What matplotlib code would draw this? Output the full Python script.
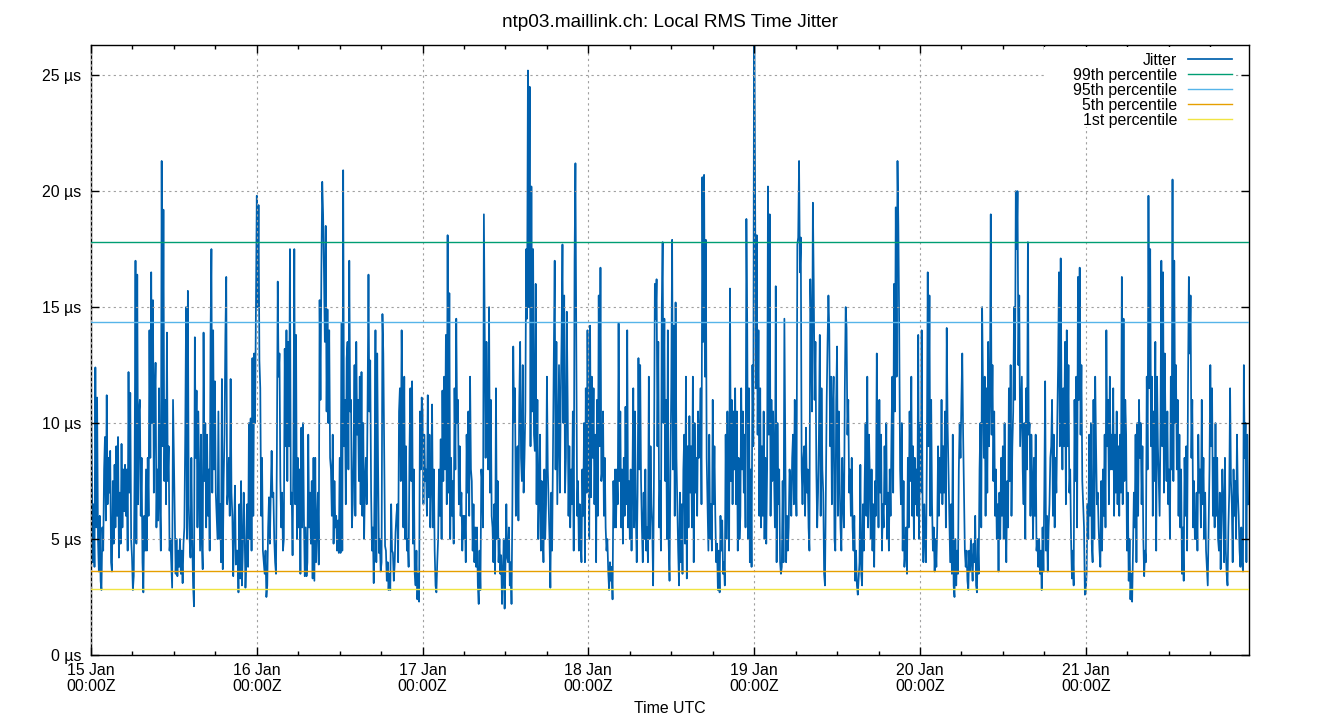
import numpy as np
import matplotlib
matplotlib.use("Agg")
import matplotlib.pyplot as plt
import matplotlib.dates as mdates
from matplotlib.patches import Rectangle
from matplotlib.ticker import FuncFormatter, MultipleLocator

# ---------------- data (µs), one list per day ----------------
day_starts = ["2025-01-15", "2025-01-16", "2025-01-17", "2025-01-18",
              "2025-01-19", "2025-01-20", "2025-01-21"]
last_sample = "2025-01-21T23:38"

jitter_jan15 = [
    11.2, 7.5, 4.0, 6.5, 3.8, 12.4, 5.5, 11.1,
    5.0, 3.6, 6.0, 3.2, 2.8, 5.5, 4.5, 8.0,
    9.4, 5.8, 11.2, 6.5, 8.5, 7.0, 8.8, 4.0,
    3.6, 7.5, 4.8, 8.2, 5.5, 9.0, 6.0, 9.4,
    4.2, 7.0, 4.8, 9.1, 5.5, 8.0, 6.2, 8.2,
    6.0, 8.0, 4.5, 12.2, 7.0, 11.3, 5.0, 4.2,
    2.8, 3.4, 8.0, 17.0, 4.8, 16.4, 6.5, 10.5,
    11.0, 6.0, 8.5, 4.0, 2.7, 6.0, 4.5, 8.0,
    4.5, 8.5, 6.0, 14.0, 8.5, 16.5, 10.0, 15.3,
    7.0, 11.0, 12.6, 5.5, 8.0, 5.8, 11.5, 6.5,
    4.5, 21.3, 9.0, 19.2, 7.5, 11.0, 6.5, 13.9,
    7.5, 9.0, 4.5, 5.0, 4.0, 2.9, 11.0, 8.5,
    6.0, 3.5, 5.0, 3.4, 4.5, 3.8, 5.0, 3.5,
    4.5, 3.1, 4.8, 5.5, 9.5, 15.0, 5.0, 15.7,
    6.5, 5.0, 4.2, 8.5, 5.0, 3.0, 2.1, 13.7,
    8.5, 11.4, 5.5, 10.5, 7.5, 4.5, 9.5, 5.0,
    3.7, 13.9, 7.5, 10.0, 5.5, 9.5, 6.0, 8.0,
    4.5, 13.8, 17.5, 7.0, 14.0, 8.0, 11.8, 7.0,
    6.0, 5.0, 10.5, 5.0, 6.5, 4.0, 11.9, 3.7,
    7.5, 9.5, 13.8, 16.3, 6.5, 7.0, 8.5, 6.0,
    11.9, 7.0, 6.0, 3.4, 5.5, 7.3, 3.9, 4.5,
    4.5, 2.7, 6.5, 3.3, 7.5, 3.0, 4.5, 7.0,
    5.5, 2.9, 4.0, 6.5, 3.8, 10.0, 5.0, 10.2,
    4.5, 12.8, 6.0, 13.0, 10.0, 15.0,
]
jitter_jan16 = [
    19.8, 15.0, 19.4, 12.7, 11.5, 6.0, 8.5, 4.5,
    4.0, 3.5, 4.5, 2.5, 3.0, 5.5, 6.8, 4.8,
    7.0, 8.8, 6.8, 7.0, 5.0, 4.0, 3.5, 8.5,
    16.1, 12.0, 13.0, 7.5, 5.5, 7.0, 4.5, 5.0,
    13.2, 9.0, 14.0, 7.5, 13.5, 9.0, 17.5, 6.5,
    7.0, 4.3, 9.0, 17.5, 6.5, 13.8, 5.0, 8.5,
    5.5, 8.0, 3.5, 9.8, 5.5, 10.0, 6.0, 3.4,
    5.5, 3.4, 4.0, 9.5, 5.5, 7.0, 4.8, 7.5,
    3.3, 8.5, 3.2, 8.5, 4.0, 5.5, 7.0, 3.9,
    15.3, 11.0, 16.5, 20.4, 19.0, 16.5, 13.5, 18.5,
    10.5, 14.9, 10.0, 14.0, 8.5, 8.0, 6.0, 9.5,
    4.8, 7.5, 5.5, 6.0, 4.5, 5.8, 4.4, 8.5,
    4.4, 14.3, 4.5, 20.9, 9.0, 11.0, 6.5, 12.8,
    13.5, 8.0, 17.0, 10.5, 11.0, 5.5, 6.5, 9.0,
    12.5, 6.0, 13.5, 9.5, 11.0, 7.5, 12.0, 6.5,
    12.2, 6.0, 10.0, 5.0, 7.5, 8.5, 6.5, 11.0,
    16.4, 10.5, 12.7, 7.0, 4.5, 5.5, 3.1, 7.5,
    14.0, 4.0, 13.0, 8.2, 4.4, 5.0, 3.6, 4.0,
    14.7, 13.0, 9.0, 4.7, 4.5, 3.2, 4.0, 2.8,
    3.5, 2.8, 6.5, 4.5, 4.4, 3.2, 3.9, 5.3,
    6.0, 6.5, 4.0, 10.5, 11.5, 7.5, 14.0, 10.5,
    5.5, 12.0, 5.0, 9.0, 4.5, 5.0, 3.8, 8.8,
    11.5, 7.5, 11.8, 4.8, 8.0, 3.5, 3.0, 4.5,
    2.4, 3.5, 2.3, 10.5, 8.0, 11.1,
]
jitter_jan17 = [
    10.5, 6.5, 9.5, 7.5, 8.0, 6.0, 11.2, 6.8,
    9.5, 5.5, 7.5, 10.8, 5.5, 8.0, 4.5, 3.0,
    2.7, 4.0, 5.0, 8.0, 6.0, 9.3, 5.0, 11.4,
    7.5, 12.0, 8.0, 13.8, 6.5, 18.1, 7.0, 15.6,
    5.0, 8.5, 6.0, 7.5, 4.8, 11.5, 8.0, 14.5,
    10.0, 11.0, 6.5, 9.0, 6.0, 7.0, 4.5, 6.0,
    5.0, 6.0, 4.0, 9.5, 7.0, 10.5, 6.0, 12.0,
    8.0, 7.5, 4.5, 6.5, 4.0, 5.5, 3.8, 5.5,
    3.0, 2.2, 4.5, 2.8, 8.0, 7.5, 5.5, 19.0,
    14.0, 8.5, 13.5, 10.0, 8.0, 15.0, 7.0, 11.0,
    6.0, 5.5, 4.0, 6.5, 3.5, 11.5, 5.0, 7.5,
    4.0, 5.0, 3.5, 4.3, 2.2, 3.5, 5.0, 2.0,
    4.0, 6.5, 4.2, 4.0, 5.5, 3.0, 4.0, 2.2,
    6.5, 13.3, 10.0, 11.5, 6.0, 8.5, 9.0, 5.8,
    11.0, 13.5, 8.5, 7.5, 12.5, 7.0, 8.5, 10.5,
    17.5, 14.5, 25.2, 15.0, 24.5, 9.0, 20.2, 10.5,
    17.5, 9.5, 8.8, 16.0, 6.5, 11.0, 5.0, 7.0,
    9.5, 4.5, 7.5, 5.5, 4.0, 8.0, 5.0, 6.5,
    12.0, 8.0, 6.5, 5.0, 2.9, 7.0, 4.5, 9.0,
    13.0, 17.0, 8.0, 13.5, 6.5, 9.5, 12.5, 7.0,
    11.0, 13.8, 17.7, 10.0, 15.5, 7.0, 8.5, 14.8,
    11.0, 6.0, 9.0, 5.5, 8.0, 6.5, 10.5, 4.5,
    17.0, 21.2, 14.0, 6.0, 7.5, 4.5, 6.5, 5.0,
    4.0, 8.0, 6.0, 10.0, 4.0, 11.5, 7.0, 14.0,
]
jitter_jan18 = [
    9.0, 5.0, 14.2, 6.8, 12.0, 8.5, 11.5, 6.5,
    9.5, 4.0, 11.0, 6.0, 15.5, 9.0, 16.7, 7.5,
    8.0, 10.5, 6.0, 8.5, 5.5, 4.5, 5.0, 3.6,
    2.8, 4.0, 3.2, 3.8, 2.4, 7.5, 5.5, 8.0,
    5.5, 8.0, 6.5, 14.3, 7.5, 10.5, 5.5, 8.0,
    4.8, 8.5, 6.0, 10.7, 6.5, 14.0, 5.5, 7.5,
    5.0, 8.0, 4.5, 7.5, 11.5, 5.5, 10.5, 6.0,
    4.0, 7.0, 12.8, 8.0, 12.5, 7.5, 5.5, 4.0,
    7.0, 5.0, 8.0, 4.5, 5.5, 4.0, 12.0, 5.0,
    9.0, 6.5, 5.5, 3.0, 8.0, 16.0, 14.5, 16.2,
    9.0, 13.5, 5.5, 7.5, 4.5, 15.0, 17.8, 10.0,
    14.5, 7.5, 11.0, 5.0, 14.0, 4.8, 3.2, 8.0,
    11.5, 17.9, 8.0, 14.2, 6.0, 15.2, 8.5, 6.5,
    4.5, 3.0, 7.0, 4.0, 6.5, 3.5, 8.0, 9.5,
    4.8, 12.0, 3.3, 9.0, 5.5, 10.3, 7.0, 9.0,
    5.5, 12.0, 4.0, 10.0, 7.0, 8.5, 6.0, 10.5,
    8.5, 9.5, 11.5, 6.5, 20.6, 13.5, 20.7, 12.0,
    17.9, 8.5, 6.5, 4.5, 9.5, 5.0, 6.5, 4.5,
    11.0, 6.5, 9.0, 6.0, 4.0, 4.8, 2.8, 4.5,
    2.7, 6.0, 4.5, 5.8, 3.5, 4.0, 3.0, 9.5,
    5.0, 10.5, 7.0, 4.5, 15.8, 7.5, 11.0, 6.5,
    10.5, 8.0, 11.5, 6.5, 10.5, 4.5, 8.5, 5.0,
    6.0, 11.5, 8.0, 10.5, 7.0, 9.5, 5.5, 18.8,
    14.0, 5.0, 11.5, 4.0, 8.0, 3.8, 12.5, 9.0,
]
jitter_jan19 = [
    30.0, 21.0, 11.5, 18.1, 9.5, 14.0, 6.0, 11.5,
    5.5, 9.0, 6.0, 10.5, 5.0, 8.5, 4.8, 8.0,
    20.2, 9.5, 19.0, 6.0, 11.0, 7.5, 10.5, 8.0,
    5.5, 15.9, 4.0, 10.0, 6.5, 8.0, 4.0, 3.5,
    3.8, 7.5, 4.0, 14.5, 9.0, 4.0, 6.0, 4.5,
    5.5, 8.0, 7.5, 6.0, 8.5, 9.5, 6.5, 11.0,
    8.0, 6.0, 17.7, 18.0, 21.3, 16.5, 18.0, 8.0,
    6.5, 8.5, 9.0, 6.0, 9.8, 7.0, 8.0, 5.5,
    4.5, 16.2, 14.0, 10.5, 19.5, 16.0, 11.0, 13.5,
    8.0, 5.5, 7.0, 9.5, 13.8, 6.0, 11.5, 8.0,
    7.0, 3.5, 3.0, 7.0, 11.0, 13.5, 15.5, 14.0,
    9.0, 12.0, 6.5, 10.5, 12.0, 5.0, 4.5, 11.0,
    13.3, 6.0, 10.5, 7.5, 5.5, 4.5, 8.5, 6.5,
    5.5, 11.5, 15.0, 14.1, 9.5, 11.0, 7.0, 8.0,
    6.0, 8.5, 5.5, 4.5, 6.0, 3.2, 4.5, 3.0,
    2.6, 3.3, 4.0, 8.2, 3.5, 3.0, 6.5, 4.5,
    7.5, 10.0, 6.0, 12.0, 5.5, 9.5, 7.5, 5.0,
    8.0, 4.5, 6.5, 3.8, 7.5, 6.0, 13.0, 8.5,
    5.5, 11.0, 7.0, 9.5, 4.5, 6.5, 5.5, 9.0,
    6.5, 10.0, 5.0, 7.0, 4.5, 8.0, 6.0, 9.5,
    12.0, 7.0, 16.0, 10.5, 19.3, 12.0, 21.3, 18.5,
    14.0, 8.0, 6.5, 10.0, 4.5, 7.5, 3.8, 4.5,
    5.5, 3.5, 8.5, 5.5, 10.5, 7.5, 12.0, 6.0,
    9.0, 5.0, 8.5, 6.5, 8.0, 6.0, 13.8, 5.0,
]
jitter_jan20 = [
    10.0, 7.0, 14.0, 6.5, 4.0, 6.5, 5.0, 4.0,
    8.5, 16.5, 9.0, 15.5, 6.0, 11.0, 6.5, 4.5,
    5.5, 3.6, 5.0, 3.8, 5.5, 9.0, 6.0, 8.5,
    7.0, 11.0, 6.5, 9.0, 7.0, 10.5, 5.5, 14.1,
    10.0, 8.0, 6.0, 4.0, 6.5, 3.5, 9.5, 3.0,
    2.5, 5.0, 3.0, 4.5, 3.5, 8.0, 10.0, 8.5,
    11.0, 13.0, 9.5, 7.0, 4.5, 3.8, 4.5, 3.2,
    2.8, 4.5, 3.6, 5.0, 4.0, 3.2, 4.8, 4.0,
    6.0, 3.0, 2.7, 5.0, 3.5, 8.0, 10.0, 5.5,
    15.0, 11.5, 8.5, 12.0, 6.0, 11.5, 7.0, 13.5,
    9.0, 11.0, 19.0, 9.5, 12.5, 7.5, 10.5, 6.0,
    8.0, 5.0, 6.5, 3.6, 7.0, 5.0, 8.5, 6.0,
    9.0, 5.0, 10.0, 6.5, 4.0, 7.5, 5.5, 11.5,
    7.5, 12.5, 6.0, 9.0, 10.5, 15.0, 11.0, 20.0,
    17.5, 20.0, 12.5, 15.5, 9.0, 10.5, 12.0, 8.0,
    6.5, 10.0, 5.0, 11.5, 8.0, 17.8, 9.5, 10.0,
    6.0, 9.5, 7.5, 5.0, 8.5, 6.0, 9.5, 4.5,
    5.0, 3.8, 5.0, 3.5, 4.5, 2.8, 5.5, 3.6,
    7.0, 11.8, 4.5, 6.0, 3.6, 5.5, 6.5, 8.5,
    9.0, 11.0, 6.0, 9.5, 5.5, 8.5, 7.0, 10.0,
    12.5, 16.5, 9.0, 17.1, 10.5, 8.0, 11.5, 9.0,
    13.5, 6.5, 14.0, 9.0, 12.5, 7.0, 8.0, 5.0,
    3.3, 4.5, 3.0, 11.0, 7.5, 12.0, 5.5, 16.3,
    11.0, 16.7, 9.5, 12.5, 7.5, 6.5, 5.5, 2.6,
]
jitter_jan21 = [
    2.7, 3.5, 6.5, 5.0, 9.5, 6.0, 10.0, 4.8,
    4.0, 11.0, 5.0, 12.0, 9.0, 6.5, 7.0, 5.5,
    4.5, 3.8, 7.5, 4.5, 8.0, 6.0, 9.5, 5.5,
    14.0, 9.0, 11.0, 6.5, 12.0, 8.0, 9.5, 8.0,
    11.5, 6.0, 9.5, 7.0, 10.5, 6.5, 9.0, 6.0,
    9.5, 7.0, 16.3, 6.5, 14.5, 7.5, 11.0, 9.5,
    4.5, 7.0, 3.2, 5.0, 2.4, 3.5, 2.3, 4.5,
    7.0, 5.5, 9.5, 4.0, 10.0, 6.0, 11.0, 8.5,
    10.0, 6.5, 9.0, 5.0, 3.4, 4.5, 4.0, 12.0,
    8.0, 19.8, 11.5, 17.5, 9.0, 12.0, 6.0, 10.5,
    7.5, 13.5, 4.5, 12.0, 9.0, 7.5, 6.0, 10.0,
    17.0, 9.0, 16.5, 7.0, 13.0, 9.0, 7.5, 10.5,
    6.5, 8.0, 5.0, 12.0, 8.0, 20.5, 7.5, 17.0,
    10.0, 12.5, 8.0, 11.0, 6.0, 9.5, 5.5, 8.0,
    3.5, 5.5, 3.2, 8.5, 6.0, 9.0, 4.5, 11.5,
    16.3, 13.0, 15.5, 8.5, 11.0, 5.5, 7.5, 5.0,
    5.0, 7.0, 4.5, 9.5, 7.0, 8.0, 5.5, 11.0,
    6.5, 8.5, 5.0, 7.0, 4.5, 3.7, 3.0, 5.5,
    8.0, 12.5, 9.0, 11.5, 6.0, 8.5, 5.5, 10.0,
    6.0, 8.5, 5.0, 4.5, 7.0, 3.7, 6.0, 8.0,
    6.5, 4.0, 8.5, 4.5, 3.5, 3.0, 5.5, 7.0,
    11.5, 7.5, 6.5, 4.0, 8.0, 6.0, 7.5, 5.0,
    9.5, 7.0, 6.0, 4.5, 3.8, 5.5, 4.0, 3.6,
    12.5, 8.5, 10.0, 4.0, 9.5, 6.5,
]
daily_series = [jitter_jan15, jitter_jan16, jitter_jan17, jitter_jan18,
                jitter_jan19, jitter_jan20, jitter_jan21]

percentile_labels = ["99th percentile", "95th percentile", "5th percentile", "1st percentile"]
percentile_values = [17.8, 14.35, 3.62, 2.85]

# ---------------- assemble time axis ----------------
times, values = [], []
for i, (d, vals) in enumerate(zip(day_starts, daily_series)):
    start = np.datetime64(d + "T00:00")
    end = np.datetime64(day_starts[i + 1] + "T00:00") if i + 1 < len(day_starts) else np.datetime64(last_sample)
    span = (end - start).astype("timedelta64[s]").astype(float)
    n = len(vals)
    offs = (np.arange(n) * span / n).astype("timedelta64[s]")
    times.append(start + offs)
    values.append(np.array(vals, float))
times = np.concatenate(times).astype("datetime64[s]").astype(object)
values = np.concatenate(values)

# ---------------- plot ----------------
plt.rcParams["font.family"] = ["Liberation Sans", "DejaVu Sans"]
plt.rcParams["font.size"] = 11.4

fig = plt.figure(figsize=(13.4, 7.2), dpi=100)
ax = fig.add_axes([91 / 1340, 1 - 655 / 720, (1249 - 91) / 1340, (655 - 45) / 720])

colors = ["#0060ad", "#009e73", "#56b4e9", "#e69f00", "#f0e442"]
ax.plot(times, values, color=colors[0], lw=1.25, label="Jitter", zorder=2)
for lab, val, c in zip(percentile_labels, percentile_values, colors[1:]):
    ax.axhline(val, color=c, lw=1.0, label=lab, zorder=3)

x0 = np.datetime64(day_starts[0] + "T00:00").astype("datetime64[s]").astype(object)
x1 = np.datetime64(last_sample).astype("datetime64[s]").astype(object)
ax.set_xlim(x0, x1)
ax.set_ylim(0, 26.3)

ax.xaxis.set_major_locator(mdates.DayLocator())
ax.xaxis.set_minor_locator(mdates.HourLocator(byhour=[6, 12, 18]))
ax.xaxis.set_major_formatter(mdates.DateFormatter("%d %b\n%H:%MZ"))
ax.yaxis.set_major_locator(MultipleLocator(5))
ax.yaxis.set_major_formatter(FuncFormatter(lambda v, p: f"{v:g} µs"))

ax.tick_params(which="both", direction="in", top=True, right=True, color="black")
ax.tick_params(which="major", length=6, width=1)
ax.tick_params(which="minor", length=3, width=1)
ax.tick_params(axis="x", which="major", pad=6)
ax.tick_params(axis="y", which="major", pad=7)
for s in ax.spines.values():
    s.set_linewidth(1.0)

ax.grid(True, which="major", color="#a0a0a0", linestyle=(0, (2, 3)), lw=0.8)
ax.set_axisbelow(False)

ax.set_title("ntp03.maillink.ch: Local RMS Time Jitter", pad=13)
ax.set_xlabel("Time UTC", labelpad=5)

fig.canvas.draw()
for t in ax.xaxis.get_major_ticks():
    t.label1.set_linespacing(1.08)

# white key background that hides the grid behind the legend (as in the reference)
ax.add_patch(Rectangle(((1044 - 91) / 1158, 1 - (127 - 45) / 610),
                       (1236 - 1044) / 1158, (127 - 47) / 610,
                       transform=ax.transAxes, facecolor="white", edgecolor="none",
                       zorder=4, clip_on=False))

leg = ax.legend(loc="upper right", bbox_to_anchor=(1 - 17 / 1158, 1 - 8 / 610),
                frameon=False, markerfirst=False, handlelength=2.8,
                handletextpad=0.65, labelspacing=0.0, borderaxespad=0, borderpad=0)
leg.set_zorder(5)

fig.savefig("out.png", dpi=100)
